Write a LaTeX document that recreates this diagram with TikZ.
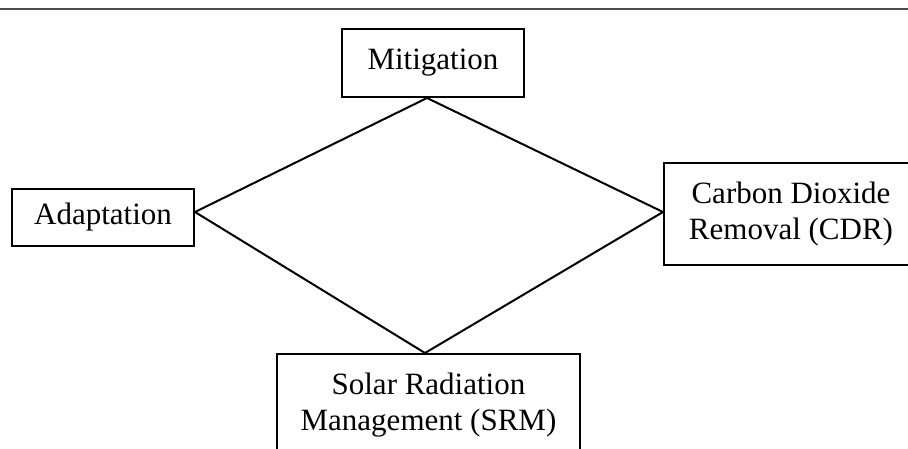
\documentclass[tikz,border=0pt]{standalone}
\usepackage{fontspec}
\setmainfont{Liberation Serif}
\begin{document}
\begin{tikzpicture}[x=1pt,y=-1pt,
  box/.style={draw=black,line width=2pt,inner sep=0pt,align=center,font=\fontsize{31}{36.5}\selectfont},
  link/.style={draw=black,line width=2pt,line join=miter}]
\useasboundingbox (0,0) rectangle (908,449);
\fill[white] (0,0) rectangle (908,449);
\begin{scope}
\clip (0,0) rectangle (908,449);
\coordinate (tl) at (0,9.5);
\coordinate (tr) at (908,9.5);
\draw[line width=2pt,draw=black!70] (tl) -- (tr);
\node[box,minimum width=182pt,minimum height=68pt] (mit) at (433,63) {Mitigation};
\node[box,minimum width=182pt,minimum height=57pt] (ada) at (103,217.5) {Adaptation};
\node[box,minimum width=254pt,minimum height=102pt] (cdr) at (791,214) {Carbon Dioxide\\Removal (CDR)};
\node[box,minimum width=303pt,minimum height=102pt] (srm) at (428.5,405) {Solar Radiation\\Management (SRM)};
\draw[link] ([xshift=-6pt]mit.south) -- ([yshift=5.5pt]ada.east) -- ([xshift=-3.5pt]srm.north) -- ([yshift=2pt]cdr.west) -- cycle;
\end{scope}
\end{tikzpicture}
\end{document}
